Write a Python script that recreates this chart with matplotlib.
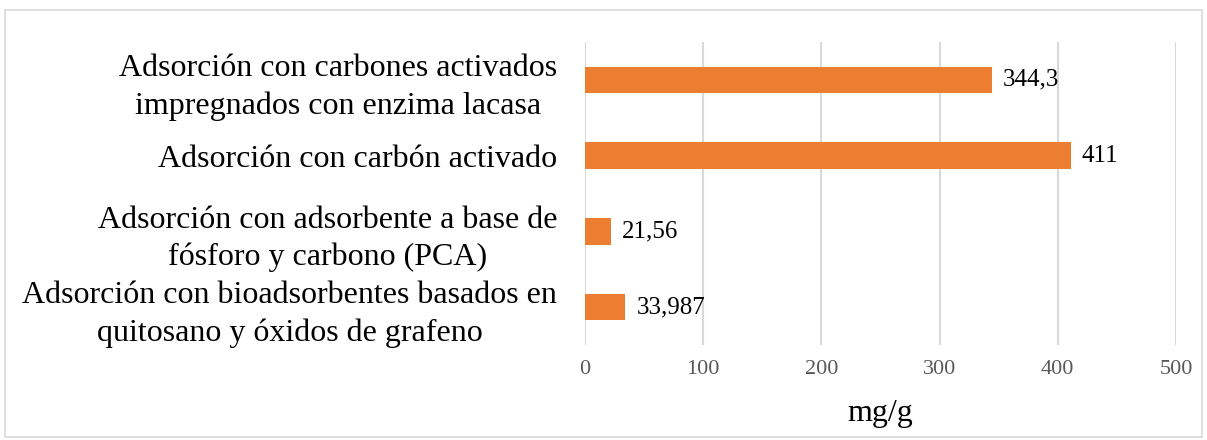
import matplotlib.pyplot as plt
from matplotlib.patches import Rectangle

categories = [
    "Adsorción con carbones activados\nimpregnados con enzima lacasa",
    "Adsorción con carbón activado",
    "Adsorción con adsorbente a base de\nfósforo y carbono (PCA)",
    "Adsorción con bioadsorbentes basados en\nquitosano y óxidos de grafeno",
]
values = [344.3, 411, 21.56, 33.987]
value_labels = ["344,3", "411", "21,56", "33,987"]
xticks = [0, 100, 200, 300, 400, 500]

plt.rcParams['font.family'] = ['Liberation Serif', 'DejaVu Serif']

fig = plt.figure(figsize=(12.07, 4.40), dpi=100)
ax = fig.add_axes([0.4847, 0.2159, 0.4896, 0.6886])

ypos = list(range(len(categories)))
ax.barh(ypos, values, height=0.35, color='#ED7D31', zorder=3)
ax.set_ylim(3.5, -0.5)
ax.set_xlim(0, 500)
ax.set_xticks(xticks)
ax.set_xticklabels([str(t) for t in xticks], fontsize=16, color='#595959')
ax.set_yticks(ypos)
ax.set_yticklabels(categories, fontsize=23, color='black', ha='right',
                   multialignment='center', linespacing=1.35)
ax.tick_params(axis='both', length=0)
ax.tick_params(axis='y', pad=20)
ax.tick_params(axis='x', pad=11)
ax.grid(axis='x', color='#d9d9d9', linewidth=1.5, zorder=0)
for s in ax.spines.values():
    s.set_visible(False)

for y, v, lab in zip(ypos, values, value_labels):
    ax.annotate(lab, (v, y), xytext=(8, 0), textcoords='offset points',
                va='center', ha='left', fontsize=18, color='black')

ax.set_xlabel('mg/g', fontsize=23, labelpad=14)

fig.patches.append(Rectangle((0.004, 0.007), 0.992, 0.970, transform=fig.transFigure,
                             fill=False, edgecolor='#d9d9d9', linewidth=1.2))

fig.savefig('out.png', dpi=100)
